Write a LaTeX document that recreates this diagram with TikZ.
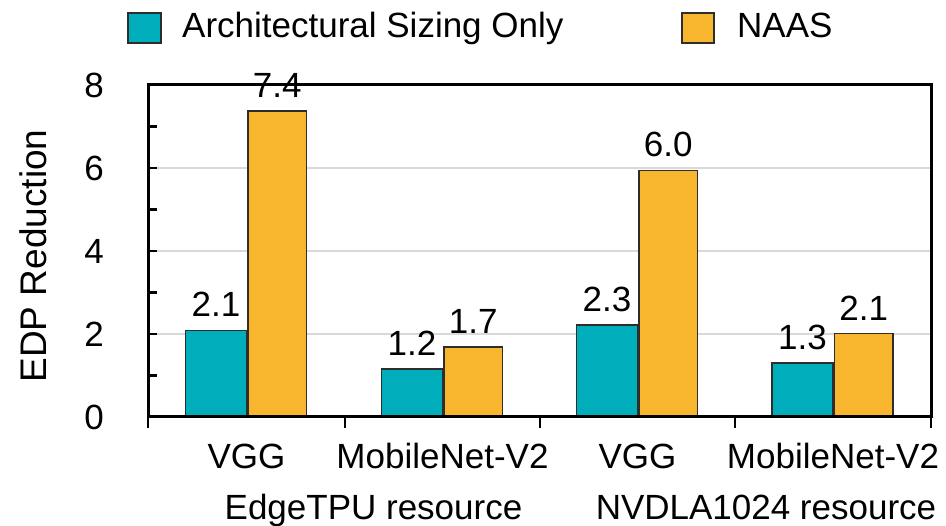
\documentclass[tikz,border=0pt]{standalone}
\usepackage{fontspec}
\setmainfont{Liberation Sans}
\definecolor{barteal}{RGB}{0,174,187}
\definecolor{barorange}{RGB}{247,182,45}
\definecolor{gridgray}{RGB}{217,217,217}
\definecolor{edgegray}{RGB}{45,45,45}
\begin{document}
\begin{tikzpicture}[x=1pt,y=-1pt,
  txt/.style={font=\fontsize{35}{40}\selectfont, inner sep=0pt},
  tealbar/.style={fill=barteal, draw=edgegray, line width=1.5pt},
  orangebar/.style={fill=barorange, draw=edgegray, line width=1.5pt},
  gridline/.style={draw=gridgray, line width=2pt},
  axisline/.style={draw=black, line width=3pt},
  tickline/.style={draw=black, line width=2.5pt}]
\useasboundingbox (0,0) rectangle (946,526);
% value v sits at y = 417 - 41.5 v
\foreach \v in {2,4,6}
  \draw[gridline] (148,{417-41.5*\v}) -- (931,{417-41.5*\v});
% bars: group centre / baseline height / label / NAAS height / label
\foreach \c/\a/\la/\b/\lb [count=\i] in
  {246.5/2.09/2.1/7.37/7.4, 442.5/1.16/1.2/1.69/1.7,
   637.5/2.22/2.3/5.94/6.0, 833/1.30/1.3/2.01/2.1} {
  \draw[tealbar] ({\c-61},417) rectangle ({\c},{417-41.5*\a});
  \draw[orangebar] ({\c+1.5},417) rectangle ({\c+60},{417-41.5*\b});
  \node[txt, anchor=base] (va\i) at ({\c-30.5},{417-41.5*\a-13.5}) {\la};
  \node[txt, anchor=base] (vb\i) at ({\c+30.75},{417-41.5*\b-13.5}) {\lb};
}
% frame and ticks
\draw[axisline] (148,85) rectangle (931,417);
\foreach \x in {148,345,540,735,931}
  \draw[tickline] (\x,417) -- (\x,428);
\foreach \v in {1,...,7}
  \draw[tickline] (148,{417-41.5*\v}) -- (157,{417-41.5*\v});
\foreach \v in {0,2,4,6,8}
  \node[txt, anchor=east] (y\v) at (104,{417-41.5*\v}) {\v};
% category labels
\node[txt, anchor=base] (c1) at (246.5,469) {VGG};
\node[txt, anchor=base] (c2) at (442.5,469) {MobileNet-V2};
\node[txt, anchor=base] (c3) at (637.5,469) {VGG};
\node[txt, anchor=base] (c4) at (833,469) {MobileNet-V2};
\node[txt, anchor=base] (g1) at (373.5,520) {EdgeTPU resource};
\node[txt, anchor=base] (g2) at (766,520) {NVDLA1024 resource};
% axis title
\node[txt, font=\fontsize{37}{42}\selectfont, rotate=90] (ytitle) at (33,256) {EDP Reduction};
% legend
\draw[tealbar] (128,13) rectangle (161,43);
\node[txt, anchor=base west] (leg1) at (182,38) {Architectural Sizing Only};
\draw[orangebar] (682,13) rectangle (714,43);
\node[txt, anchor=base west] (leg2) at (737,38) {NAAS};
\end{tikzpicture}
\end{document}
